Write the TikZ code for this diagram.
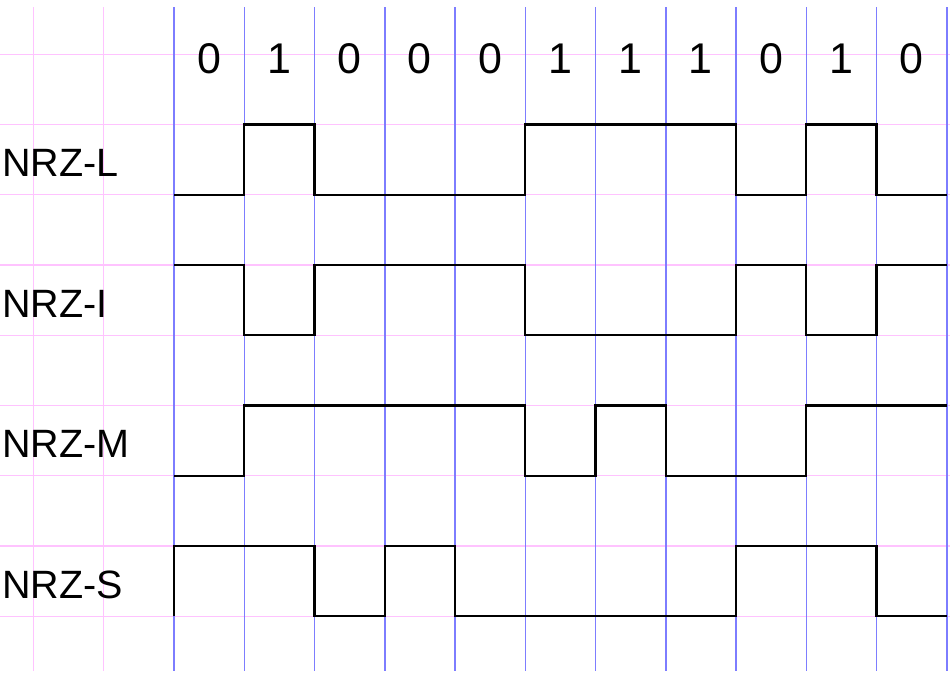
\documentclass[tikz,border=0pt]{standalone}
\usepackage{fontspec}
\setmainfont{Liberation Sans}
\definecolor{gridpink}{RGB}{255,195,255}
\definecolor{gridblue}{RGB}{125,125,255}
\tikzset{
  pinkline/.style={draw=gridpink,line width=0.5pt},
  blueline/.style={draw=gridblue,line width=0.6pt},
  sig/.style={draw=black,line width=0.95pt,line join=miter},
  bit/.style={anchor=base,inner sep=0pt,font=\fontsize{17.4}{20}\selectfont},
  lab/.style={anchor=base west,inner sep=0pt,font=\fontsize{16}{19}\selectfont}
}
\begin{document}
\begin{tikzpicture}[x=1cm,y=-1cm]
\useasboundingbox (-2.477,-0.773) rectangle (11.046,8.822);
\foreach \k in {0,...,8} \draw[pinkline] (-2.477,\k) -- (11.046,\k);
\foreach \x in {-2,-1} \draw[pinkline] (\x,-0.673) -- (\x,8.78);
\foreach \x in {0,...,11} \draw[blueline] (\x,-0.673) -- (\x,8.78);
\foreach \b [count=\i from 0] in {0,1,0,0,0,1,1,1,0,1,0}
  \node[bit] (b\i) at (\i+0.5,0.28) {\b};
\node[lab] (nrzl) at (-2.455,1.745) {NRZ-L};
\node[lab] (nrzi) at (-2.455,3.745) {NRZ-I};
\node[lab] (nrzm) at (-2.455,5.745) {NRZ-M};
\node[lab] (nrzs) at (-2.455,7.745) {NRZ-S};
% NRZ-L
\draw[sig] (0,2) -- (1,2) -- (1,1) -- (2,1) -- (2,2) -- (5,2) -- (5,1) -- (8,1) -- (8,2) -- (9,2) -- (9,1) -- (10,1) -- (10,2) -- (11,2);
% NRZ-I
\draw[sig] (0,3) -- (1,3) -- (1,4) -- (2,4) -- (2,3) -- (5,3) -- (5,4) -- (8,4) -- (8,3) -- (9,3) -- (9,4) -- (10,4) -- (10,3) -- (11,3);
% NRZ-M
\draw[sig] (0,6) -- (1,6) -- (1,5) -- (5,5) -- (5,6) -- (6,6) -- (6,5) -- (7,5) -- (7,6) -- (9,6) -- (9,5) -- (11,5);
% NRZ-S
\draw[sig] (0,8) -- (0,7) -- (2,7) -- (2,8) -- (3,8) -- (3,7) -- (4,7) -- (4,8) -- (8,8) -- (8,7) -- (10,7) -- (10,8) -- (11,8);
\end{tikzpicture}
\end{document}
